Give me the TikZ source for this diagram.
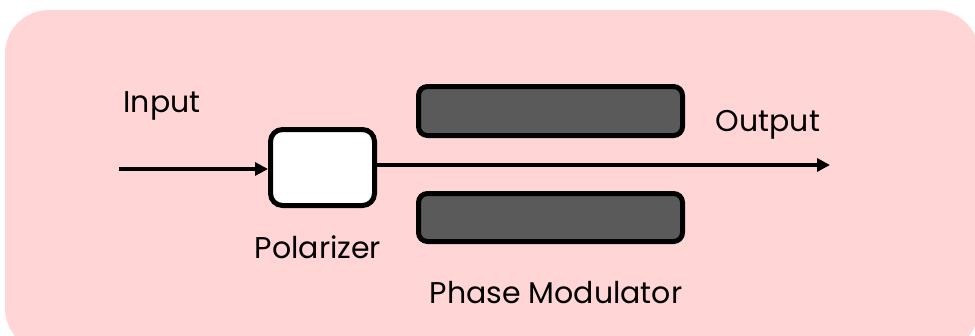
\documentclass[tikz,border=0pt]{standalone}
\usepackage{fontspec}
\setmainfont{Poppins}
\usetikzlibrary{arrows.meta}
\definecolor{bgpink}{HTML}{FFD5D5}
\definecolor{modgray}{HTML}{5A5A5A}
\begin{document}
\begin{tikzpicture}[x=1pt,y=-1pt,
  lbl/.style={font=\fontsize{30}{35}\selectfont, inner sep=0pt},
  polbox/.style={draw=black, line width=5pt, fill=white, rounded corners=12pt},
  modbox/.style={draw=black, line width=5pt, fill=modgray, rounded corners=9pt},
  beam/.style={line width=3.5pt, -{Triangle[length=13pt,width=13pt]}}]
\useasboundingbox (0,0) rectangle (975,335);
\fill[bgpink, rounded corners=44pt] (5,10) rectangle (979,352);
\node[polbox, minimum width=104pt, minimum height=76pt] (pol) at (322.5,167.5) {};
\node[modbox, minimum width=264pt, minimum height=49pt] (modtop) at (550.5,111) {};
\node[modbox, minimum width=264pt, minimum height=48pt] (modbot) at (550.5,217.5) {};
\coordinate (in) at (119,169);
\coordinate (out) at (830,165);
\draw[beam] (in) -- (in -| pol.west);
\draw[beam] (pol.east |- out) -- (out);
\node[lbl] (tin) at (162,106) {Input};
\node[lbl] (tout) at (768,125) {Output};
\node[lbl] (tpol) at (318,247) {Polarizer};
\node[lbl] (tmod) at (556,293) {Phase Modulator};
\end{tikzpicture}
\end{document}
